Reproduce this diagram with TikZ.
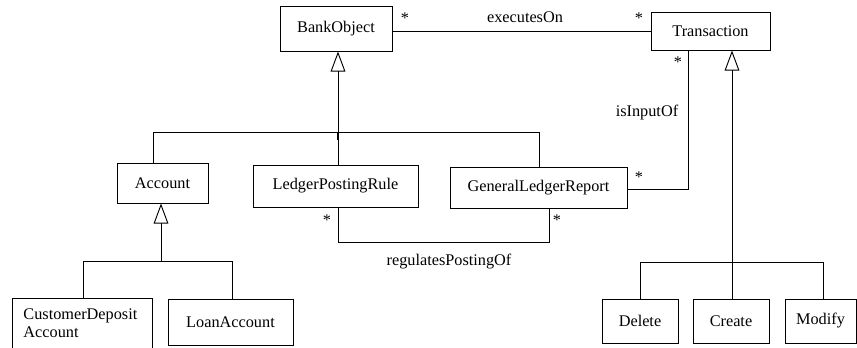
\documentclass[tikz,border=0pt]{standalone}
\usepackage{fontspec}
\setmainfont{Liberation Serif}
\usetikzlibrary{arrows.meta}
\begin{document}
\begin{tikzpicture}[x=0.75pt,y=-0.75pt,
  font=\fontsize{12.2}{13.5}\selectfont,
  line width=0.7pt,
  cls/.style={draw, line width=0.75pt, inner sep=0pt},
  lbl/.style={inner sep=0pt},
  gen/.style={-{Triangle[open,length=15pt,width=11pt]}},
]
\useasboundingbox (0,0) rectangle (857,347);

% classes
\node[cls, minimum width=84pt, minimum height=33.75pt] (BankObject) at (336,28.5) {BankObject};
\node[cls, minimum width=89.25pt, minimum height=28.5pt] (Transaction) at (710.5,31) {Transaction};
\node[cls, minimum width=68.25pt, minimum height=30pt] (Account) at (162.5,183) {Account};
\node[cls, minimum width=123.75pt, minimum height=31.5pt] (LPR) at (335.5,186) {LedgerPostingRule};
\node[cls, minimum width=132.75pt, minimum height=30.75pt] (GLR) at (538.5,187.5) {GeneralLedgerReport};
\node[cls, anchor=north west, minimum width=105pt, minimum height=52.5pt] (CDA) at (12,298) {};
\node[lbl, anchor=north west, align=left, font=\fontsize{12.2}{14}\selectfont] (CDAtext) at (23,308) {CustomerDeposit\\Account};
\node[cls, minimum width=93.75pt, minimum height=34.5pt] (Loan) at (230.5,322) {LoanAccount};
\node[cls, minimum width=57pt, minimum height=33pt] (Delete) at (640,321) {Delete};
\node[cls, minimum width=57pt, minimum height=33pt] (Create) at (731,321) {Create};
\node[cls, minimum width=53.25pt, minimum height=33pt] (Modify) at (820.5,321) {Modify};

% executesOn association
\draw (BankObject.east |- Transaction.west) -- (Transaction.west);
\node[lbl] (eo) at (525,17) {executesOn};
\node[lbl] (m1) at (405,18) {*};
\node[lbl] (m2) at (639,18) {*};

% BankObject generalization tree
\coordinate (boJ) at (338,132);
\coordinate (boL) at (153,132);
\coordinate (boR) at (539,132);
\draw[gen] (boJ) -- (boJ |- BankObject.south);
\draw (boL) -- (boR);
\draw (boL) -- (boL |- Account.north);
\draw (boJ) -- (boJ |- LPR.north);
\draw (boR) -- (boR |- GLR.north);
\draw[line width=1.3pt] (boJ) -- ++(0,8);

% Account generalization tree
\coordinate (acJ) at (161,261);
\coordinate (acL) at (83,261);
\coordinate (acR) at (232,261);
\draw[gen] (acJ) -- (acJ |- Account.south);
\draw (acL) -- (acR);
\draw (acL) -- (acL |- CDA.north);
\draw (acR) -- (acR |- Loan.north);

% Transaction generalization tree
\coordinate (trJ) at (732,262);
\coordinate (trL) at (640,262);
\coordinate (trR) at (823,262);
\draw[gen] (trJ) -- (trJ |- Transaction.south);
\draw (trL) -- (trR);
\draw (trL) -- (trL |- Delete.north);
\draw (trJ) -- (trJ |- Create.north);
\draw (trR) -- (trR |- Modify.north);

% isInputOf association
\coordinate (ioC) at (688,189);
\draw (ioC -| GLR.east) -- (ioC) -- (ioC |- Transaction.south);
\node[lbl] (io) at (647,113) {isInputOf};
\node[lbl] (m3) at (678,62) {*};
\node[lbl] (m4) at (639,177) {*};

% regulatesPostingOf association
\coordinate (rpL) at (338,242);
\coordinate (rpR) at (549,242);
\draw (rpL |- LPR.south) -- (rpL) -- (rpR) -- (rpR |- GLR.south);
\node[lbl] (rp) at (449,262) {regulatesPostingOf};
\node[lbl] (m5) at (327,220) {*};
\node[lbl] (m6) at (557,220) {*};
\end{tikzpicture}
\end{document}
